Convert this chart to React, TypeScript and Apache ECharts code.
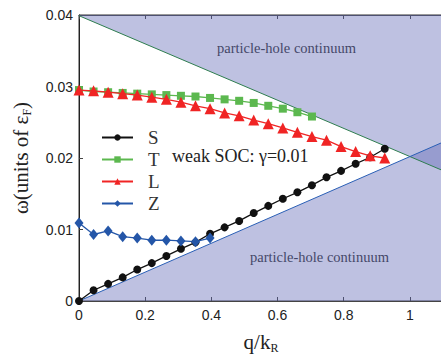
import React, { useEffect, useRef } from "react";
import * as echarts from "echarts";

const qValues = [0, 0.044, 0.088, 0.132, 0.176, 0.22, 0.264, 0.308, 0.352, 0.396, 0.44, 0.484, 0.528, 0.572, 0.616, 0.66, 0.704, 0.748, 0.792, 0.836, 0.88, 0.924];
const sValues = [0, 0.0015, 0.0024, 0.0033, 0.0044, 0.0053, 0.0063, 0.0073, 0.0082, 0.0094, 0.0103, 0.0112, 0.0123, 0.0133, 0.0143, 0.0152, 0.0162, 0.0173, 0.0182, 0.0192, 0.0201, 0.0213];
const tValues = [0.0295, 0.0293, 0.0292, 0.0291, 0.029, 0.0289, 0.0288, 0.0287, 0.0286, 0.0284, 0.0282, 0.028, 0.0277, 0.0273, 0.0269, 0.0264, 0.0258];
const lValues = [0.0295, 0.0294, 0.0292, 0.029, 0.0288, 0.0285, 0.0282, 0.0278, 0.0273, 0.0269, 0.0263, 0.0259, 0.0253, 0.0248, 0.0242, 0.0236, 0.023, 0.0225, 0.0216, 0.0209, 0.0203, 0.02];
const zValues = [0.0109, 0.0093, 0.0098, 0.009, 0.0088, 0.0085, 0.0085, 0.0084, 0.0083, 0.0088];

const upperEdge = [[0, 0.0399], [1.1, 0.01823]];
const lowerEdge = [[0, 0], [1.1, 0.02222]];

const xTicks = [0, 0.2, 0.4, 0.6, 0.8, 1];
const yTicks = [0, 0.01, 0.02, 0.03, 0.04];

const seriesNames = ["S", "T", "L", "Z"];

const pair = (vals: number[]) => vals.map((v, i) => [qValues[i], v]);

export default function App() {
  const ref = useRef<HTMLDivElement>(null);
  useEffect(() => {
    if (!ref.current) return;
    const chart = echarts.init(ref.current, null, { renderer: "svg" });
    const serif = "'Liberation Serif', 'DejaVu Serif', serif";
    const sans = "'Liberation Sans', Arial, sans-serif";
    const shade = "rgba(93,100,180,0.4)";
    const fmtX = (v: number) => {
      const t = xTicks.find((x) => Math.abs(x - v) < 1e-6);
      return t === undefined ? "" : String(t);
    };
    const fmtY = (v: number) => {
      const t = yTicks.find((x) => Math.abs(x - v) < 1e-9);
      return t === undefined ? "" : String(t);
    };
    chart.setOption({
      animation: false,
      grid: {
        left: 79, top: 15, width: 364, height: 286, containLabel: false, outerBoundsMode: "none",
        show: true, borderColor: "#333", borderWidth: 1, backgroundColor: "transparent",
      },
      xAxis: [
        {
          type: "value", min: 0, max: 1.1, interval: 0.2,
          axisLine: { show: true, lineStyle: { color: "#444" } },
          axisTick: { show: true, inside: true, length: 4, lineStyle: { color: "#444" } },
          axisLabel: { formatter: fmtX, color: "#222", fontSize: 14, fontFamily: sans, margin: 7 },
          splitLine: { show: false },
          name: "q/k{sub|R}", nameLocation: "middle", nameGap: 29,
          nameTextStyle: { fontFamily: serif, fontSize: 21, color: "#222", rich: { sub: { fontFamily: serif, fontSize: 12, color: "#222", padding: [12, 0, 0, 0] } } },
        },
        {
          type: "value", min: 0, max: 1.1, interval: 0.2, position: "top",
          axisLine: { show: true, lineStyle: { color: "#444" } },
          axisTick: { show: true, inside: true, length: 4, lineStyle: { color: "#444" } },
          axisLabel: { show: false }, splitLine: { show: false },
        },
      ],
      yAxis: {
        type: "value", min: 0, max: 0.04, interval: 0.01,
        axisLine: { show: true, lineStyle: { color: "#222" } },
        axisTick: { show: true, inside: true, length: 4, lineStyle: { color: "#444" } },
        axisLabel: { formatter: fmtY, color: "#222", fontSize: 14, fontFamily: sans, margin: 6 },
        splitLine: { show: false },
        name: "ω(units of ε{sub|F})", nameLocation: "middle", nameGap: 46,
        nameTextStyle: { fontFamily: serif, fontSize: 21, color: "#222", rich: { sub: { fontFamily: serif, fontSize: 12, color: "#222", padding: [12, 0, 0, 0] } } },
      },
      legend: {
        orient: "vertical", left: 96, top: 123, itemWidth: 31, itemHeight: 8, itemGap: 3,
        data: seriesNames,
        textStyle: { fontFamily: serif, fontSize: 19, color: "#333", lineHeight: 18, padding: [0, 0, 0, 10] },
      },
      graphic: [
        { type: "text", left: 172, top: 147, style: { text: "weak SOC: γ=0.01", font: `18px ${serif}`, fill: "#222" } },
        { type: "text", left: 217, top: 40, style: { text: "particle-hole continuum", font: `14.5px ${serif}`, fill: "#333" } },
        { type: "text", left: 250, top: 249, style: { text: "particle-hole continuum", font: `14.5px ${serif}`, fill: "#333" } },
      ],
      series: [
        {
          type: "line", data: upperEdge, symbol: "none", silent: true,
          lineStyle: { color: "#2e7d4f", width: 1 },
          areaStyle: { color: shade, origin: "end", opacity: 1 },
          z: 1,
        },
        {
          type: "line", data: lowerEdge, symbol: "none", silent: true,
          lineStyle: { color: "#2a5fb5", width: 1 },
          areaStyle: { color: shade, origin: "start", opacity: 1 },
          z: 1,
        },
        {
          name: "S", type: "line", data: pair(sValues), symbol: "circle", symbolSize: 8,
          itemStyle: { color: "#111" }, lineStyle: { color: "#111", width: 1.3 }, z: 3,
        },
        {
          name: "T", type: "line", data: pair(tValues), symbol: "rect", symbolSize: 8,
          itemStyle: { color: "#5cb84f" }, lineStyle: { color: "#5cb84f", width: 1.3 }, z: 3,
        },
        {
          name: "L", type: "line", data: pair(lValues), symbol: "triangle", symbolSize: 11,
          itemStyle: { color: "#f02424" }, lineStyle: { color: "#f02424", width: 1.3 }, z: 4,
        },
        {
          name: "Z", type: "line", data: pair(zValues), symbol: "diamond", symbolSize: [9, 11],
          itemStyle: { color: "#2456a8" }, lineStyle: { color: "#2456a8", width: 1.3 }, z: 3,
        },
      ],
    });
    return () => chart.dispose();
  }, []);
  return <div ref={ref} style={{ width: 441, height: 354, position: "absolute", left: 0, top: 0 }} />;
}
